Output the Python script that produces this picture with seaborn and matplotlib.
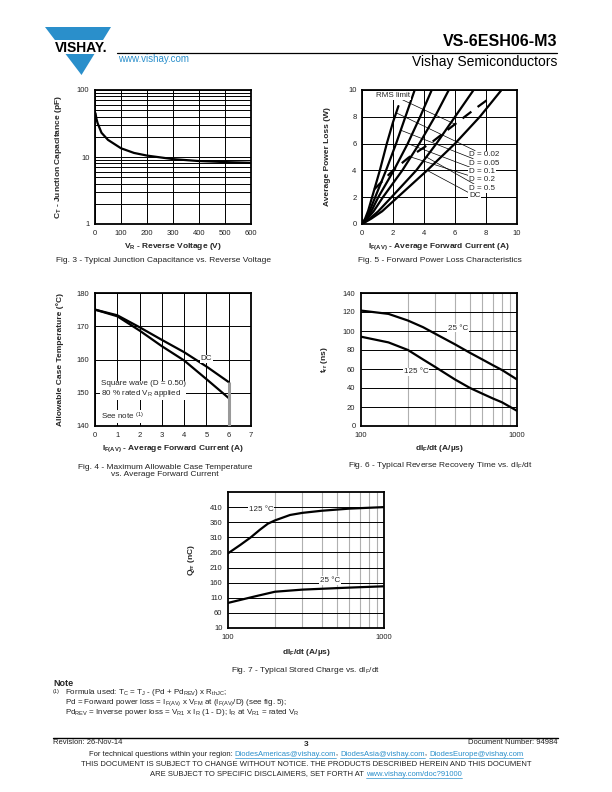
import matplotlib
matplotlib.use("Agg")
import matplotlib.pyplot as plt
import seaborn as sns
from matplotlib.patches import Polygon, Rectangle
from matplotlib.lines import Line2D
from matplotlib.ticker import NullFormatter

# Fig. 3 - junction capacitance vs reverse voltage
cap_vr = [2, 5, 10, 25, 50, 100, 150, 200, 300, 400, 500, 600]
cap_pf = [45, 38, 32, 23, 18, 13.5, 11.5, 10.5, 9.3, 8.7, 8.4, 8.2]

# Fig. 5 - forward power loss (x = current, y = loss)
loss_curves = {
    "D = 0.02": ([0, 0.2, 0.4, 0.65, 1.15, 1.6, 2.0, 2.35], [0, 0.4, 1.0, 2.0, 4.0, 6.0, 7.6, 8.8]),
    "D = 0.05": ([0, 0.25, 0.5, 0.85, 1.55, 2.2, 2.8, 3.4], [0, 0.4, 1.0, 2.0, 4.0, 6.0, 8.0, 10.0]),
    "D = 0.1": ([0, 0.3, 0.6, 1.05, 2.05, 2.95, 3.75, 4.5], [0, 0.4, 0.95, 2.0, 4.0, 6.0, 8.0, 10.0]),
    "D = 0.2": ([0, 0.35, 0.75, 1.35, 2.6, 3.7, 4.7, 5.6], [0, 0.4, 0.95, 2.0, 4.0, 6.0, 8.0, 10.0]),
    "D = 0.5": ([0, 0.5, 1.05, 1.9, 3.5, 4.8, 6.0, 7.2], [0, 0.4, 0.95, 2.0, 4.0, 6.0, 8.0, 10.0]),
    "DC": ([0, 0.6, 1.3, 2.3, 4.2, 6.0, 7.6, 9.0], [0, 0.4, 0.95, 2.0, 4.0, 6.0, 8.0, 10.0]),
}
loss_label_y = [5.15, 4.55, 3.9, 3.3, 2.65, 2.1]
loss_leader_pt = [(2.2, 8.3), (2.5, 7.0), (2.95, 6.0), (3.15, 5.0), (4.15, 5.0), (4.2, 4.0)]
rms_x = [0.8, 2.0, 3.0, 4.5, 6.0, 7.3, 8.3]
rms_y = [2.6, 4.0, 4.95, 6.1, 7.45, 8.6, 9.45]

# Fig. 4 - allowable case temperature
tc_if = [0, 1, 2, 3, 4, 5, 6]
tc_dc = [175, 173.3, 169.7, 165.9, 162.2, 157.9, 153.2]
tc_sq = [175, 173.0, 168.7, 164.0, 159.7, 154.1, 148.4]

# Fig. 6 - reverse recovery time
trr_di = [100, 150, 200, 250, 300, 400, 500, 600, 700, 800, 1000]
trr_25 = [121.5, 118, 111, 104, 97, 86, 77, 70, 64, 59, 49]
trr_125 = [94, 88, 80, 70, 62, 49, 40, 34, 29, 25, 16]

# Fig. 7 - stored charge
qrr_di_125 = [100, 120, 140, 160, 180, 200, 250, 300, 400, 600, 1000]
qrr_125 = [257, 285, 310, 335, 355, 366, 384, 391, 398, 405, 410]
qrr_di_25 = [100, 150, 200, 300, 500, 700, 1000]
qrr_25 = [93, 115, 130, 137, 142, 145, 148]

sns.set_theme(style="white")
plt.rcParams["font.family"] = ["Liberation Sans", "DejaVu Sans"]
plt.rcParams["mathtext.fontset"] = "custom"
plt.rcParams["mathtext.rm"] = "Liberation Sans"
plt.rcParams["mathtext.it"] = "Liberation Sans:italic"
plt.rcParams["mathtext.bf"] = "Liberation Sans:bold"
plt.rcParams["mathtext.default"] = "regular"

W, H = 612, 792
fig = plt.figure(figsize=(6.12, 7.92), dpi=100)
BLUE = "#2a8fcb"
INK = "#222222"


def fx(x):
    return x / W


def fy(y):
    return 1 - y / H


def make_axes(x0, y0, x1, y1):
    return fig.add_axes([fx(x0), fy(y1), fx(x1 - x0), (y1 - y0) / H])


def style(ax, xlab, ylab, xl_y=-0.13, yl_x=-0.2):
    for s in ax.spines.values():
        s.set_color("black")
        s.set_linewidth(1.3)
    ax.tick_params(which="both", length=0, labelsize=5.5, pad=4, colors=INK)
    ax.set_xlabel(xlab, fontsize=6, fontweight="bold")
    ax.set_ylabel(ylab, fontsize=6, fontweight="bold")
    ax.xaxis.set_label_coords(0.5, xl_y)
    ax.yaxis.set_label_coords(yl_x, 0.5)


box = dict(fc="white", ec="none", pad=0.6)
curve = dict(color="black", linewidth=1.6, estimator=None, sort=False)

# ---------------- Fig. 3 ----------------
ax3 = make_axes(95, 90, 251, 224)
sns.lineplot(x=cap_vr, y=cap_pf, ax=ax3, **curve)
ax3.set_yscale("log")
ax3.set_xlim(0, 600)
ax3.set_ylim(1, 100)
ax3.set_xticks(range(0, 601, 100))
ax3.set_yticks([1, 10, 100], ["1", "10", "100"])
ax3.yaxis.set_minor_formatter(NullFormatter())
ax3.grid(which="both", axis="y", color="black", lw=0.7)
ax3.grid(which="major", axis="x", color="black", lw=0.7)
style(ax3, "V$_R$ - Reverse Voltage (V)", "C$_T$ - Junction Capacitance (pF)")

# ---------------- Fig. 5 ----------------
ax5 = make_axes(362, 90, 517, 224)
for name, (xs, ys) in loss_curves.items():
    sns.lineplot(x=xs, y=ys, ax=ax5, **curve)
sns.lineplot(x=rms_x, y=rms_y, ax=ax5, color="black", linewidth=1.6,
             linestyle=(0, (5, 3.5)), estimator=None, sort=False)
ax5.set_xlim(0, 10)
ax5.set_ylim(0, 10)
ax5.set_xticks(range(0, 11, 2))
ax5.set_yticks(range(0, 11, 2))
ax5.grid(color="black", lw=0.7)
for name, ly, pt in zip(loss_curves.keys(), loss_label_y, loss_leader_pt):
    ax5.annotate(name, xy=pt, xytext=(6.9, ly), fontsize=5.8, ha="left", va="center",
                 bbox=box, arrowprops=dict(arrowstyle="-", lw=0.5, color="black",
                                           shrinkA=0, shrinkB=0))
ax5.annotate("RMS limit", xy=(rms_x[4], rms_y[4]), xytext=(0.9, 9.6), fontsize=5.8,
             ha="left", va="center", bbox=box,
             arrowprops=dict(arrowstyle="-", lw=0.5, color="black", shrinkA=0, shrinkB=0))
style(ax5, "I$_{F(AV)}$ - Average Forward Current (A)", "Average Power Loss (W)", yl_x=-0.2)

# ---------------- Fig. 4 ----------------
ax4 = make_axes(95, 293, 251, 426)
sns.lineplot(x=tc_if, y=tc_dc, ax=ax4, **curve)
sns.lineplot(x=tc_if, y=tc_sq, ax=ax4, **curve)
ax4.vlines(tc_if[-1], 140, tc_dc[-1], color="#999999", lw=2.2, zorder=3)
ax4.set_xlim(0, 7)
ax4.set_ylim(140, 180)
ax4.set_xticks(range(0, 8))
ax4.set_yticks(range(140, 181, 10))
ax4.grid(color="black", lw=0.7)
ax4.text(5.0, 160.2, "DC", fontsize=5.8, ha="center", va="center", bbox=box)
ax4.text(0.25, 151.0, "Square wave (D = 0.50)\n80 % rated V$_R$ applied", fontsize=5.8,
         ha="left", va="center", bbox=box, linespacing=1.1)
ax4.text(0.25, 142.8, "See note $^{(1)}$", fontsize=5.8, ha="left", va="center", bbox=box)
style(ax4, "I$_{F(AV)}$ - Average Forward Current (A)", "Allowable Case Temperature (°C)")

# ---------------- Fig. 6 ----------------
ax6 = make_axes(361, 293, 517, 426)
sns.lineplot(x=trr_di, y=trr_25, ax=ax6, **curve)
sns.lineplot(x=trr_di, y=trr_125, ax=ax6, **curve)
ax6.set_xscale("log")
ax6.set_xlim(100, 1000)
ax6.set_ylim(0, 140)
ax6.set_xticks([100, 1000], ["100", "1000"])
ax6.xaxis.set_minor_formatter(NullFormatter())
ax6.set_yticks(range(0, 141, 20))
ax6.grid(which="minor", axis="x", color="#b0b0b0", lw=0.8)
ax6.grid(which="major", axis="y", color="black", lw=0.7)
ax6.text(420, 103, "25 °C", fontsize=5.8, ha="center", va="center", bbox=box)
ax6.text(225, 57, "125 °C", fontsize=5.8, ha="center", va="center", bbox=box)
style(ax6, "dI$_F$/dt (A/µs)", "t$_{rr}$ (ns)", yl_x=-0.2)

# ---------------- Fig. 7 ----------------
ax7 = make_axes(228, 492, 384, 628)
sns.lineplot(x=qrr_di_125, y=qrr_125, ax=ax7, **curve)
sns.lineplot(x=qrr_di_25, y=qrr_25, ax=ax7, **curve)
ax7.set_xscale("log")
ax7.set_xlim(100, 1000)
ax7.set_ylim(10, 460)
ax7.set_xticks([100, 1000], ["100", "1000"])
ax7.xaxis.set_minor_formatter(NullFormatter())
ax7.set_yticks(range(10, 411, 50))
ax7.grid(which="minor", axis="x", color="#b0b0b0", lw=0.8)
ax7.grid(which="major", axis="y", color="black", lw=0.7)
ax7.text(163, 402, "125 °C", fontsize=5.8, ha="center", va="center", bbox=box)
ax7.text(450, 168, "25 °C", fontsize=5.8, ha="center", va="center", bbox=box)
style(ax7, "dI$_F$/dt (A/µs)", "Q$_{rr}$ (nC)", xl_y=-0.14, yl_x=-0.2)

# ---------------- captions ----------------
cap = dict(fontsize=6, ha="center", va="center", color=INK)
fig.text(fx(164), fy(261), "Fig. 3 - Typical Junction Capacitance vs. Reverse Voltage", **cap)
fig.text(fx(440), fy(261), "Fig. 5 - Forward Power Loss Characteristics", **cap)
fig.text(fx(165), fy(471), "Fig. 4 - Maximum Allowable Case Temperature\nvs. Average Forward Current",
         linespacing=1.15, **cap)
fig.text(fx(440), fy(466), "Fig. 6 - Typical Reverse Recovery Time vs. dI$_F$/dt", **cap)
fig.text(fx(306), fy(670), "Fig. 7 - Typical Stored Charge vs. dI$_F$/dt", **cap)

# ---------------- header ----------------
fig.patches.append(Polygon([(fx(45), fy(27)), (fx(111), fy(27)), (fx(81.5), fy(75))],
                           closed=True, transform=fig.transFigure, fc=BLUE, ec="none"))
fig.patches.append(Rectangle((fx(44), fy(54)), fx(68), 13.5 / H, transform=fig.transFigure,
                             fc="white", ec="none"))
fig.text(fx(81.5), fy(47.5), "VISHAY.", fontsize=10, fontweight="bold", ha="center",
         va="center", color="black")
fig.text(fx(557), fy(41), "VS-6ESH06-M3", fontsize=11.5, fontweight="bold", ha="right",
         va="center", color="black")
fig.text(fx(557), fy(62), "Vishay Semiconductors", fontsize=10, ha="right", va="center",
         color="black")
fig.text(fx(118), fy(58.5), "www.vishay.com", fontsize=7, ha="left", va="center", color=BLUE)
fig.lines.append(Line2D([fx(117), fx(557)], [fy(52.5), fy(52.5)], transform=fig.transFigure,
                        color="black", lw=0.9))

# ---------------- notes / footer ----------------
fig.text(fx(53), fy(684), "Note", fontsize=6.5, fontweight="bold", ha="left", va="center")
fig.text(fx(53), fy(691), "(1)", fontsize=4, ha="left", va="center")
note = dict(fontsize=5.8, ha="left", va="center", color=INK)
fig.text(fx(65), fy(693), "Formula used: T$_C$ = T$_J$ - (Pd + Pd$_{REV}$) x R$_{thJC}$;", **note)
fig.text(fx(65), fy(702.5), "Pd = Forward power loss = I$_{F(AV)}$ x V$_{FM}$ at (I$_{F(AV)}$/D) (see fig. 5);",
         **note)
fig.text(fx(65), fy(712), "Pd$_{REV}$ = Inverse power loss = V$_{R1}$ x I$_R$ (1 - D); I$_R$ at V$_{R1}$ = rated V$_R$",
         **note)
fig.lines.append(Line2D([fx(53), fx(558)], [fy(737.5), fy(737.5)], transform=fig.transFigure,
                        color="black", lw=1.0))
foot = dict(fontsize=5.5, va="center")
fig.text(fx(53), fy(743), "Revision: 26-Nov-14", ha="left", color=INK, **foot)
fig.text(fx(306), fy(744), "3", ha="center", fontsize=6, fontweight="bold", va="center")
fig.text(fx(558), fy(743), "Document Number: 94984", ha="right", color=INK, **foot)
fig.text(fx(306), fy(765), "THIS DOCUMENT IS SUBJECT TO CHANGE WITHOUT NOTICE. THE PRODUCTS DESCRIBED HEREIN AND THIS DOCUMENT",
         ha="center", color=INK, **foot)

renderer = fig.canvas.get_renderer()


def mixed_line(y, pieces, cx=306):
    # place a row of differently coloured text pieces, centred on cx
    items = []
    for s, c in pieces:
        t = fig.text(0, fy(y), s, ha="left", color=c, **foot)
        items.append((t, c))
    widths = [t.get_window_extent(renderer).width for t, _ in items]
    x = cx - sum(widths) / 2
    for (t, c), w in zip(items, widths):
        t.set_x(fx(x))
        if c == BLUE:
            fig.lines.append(Line2D([fx(x), fx(x + w)], [fy(y + 3.6), fy(y + 3.6)],
                                    transform=fig.transFigure, color=BLUE, lw=0.5))
        x += w


mixed_line(754, [("For technical questions within your region: ", INK),
                 ("DiodesAmericas@vishay.com", BLUE), (", ", INK),
                 ("DiodesAsia@vishay.com", BLUE), (", ", INK),
                 ("DiodesEurope@vishay.com", BLUE)])
mixed_line(774, [("ARE SUBJECT TO SPECIFIC DISCLAIMERS, SET FORTH AT ", INK),
                 ("www.vishay.com/doc?91000", BLUE)])

fig.savefig("out.png", dpi=100)
